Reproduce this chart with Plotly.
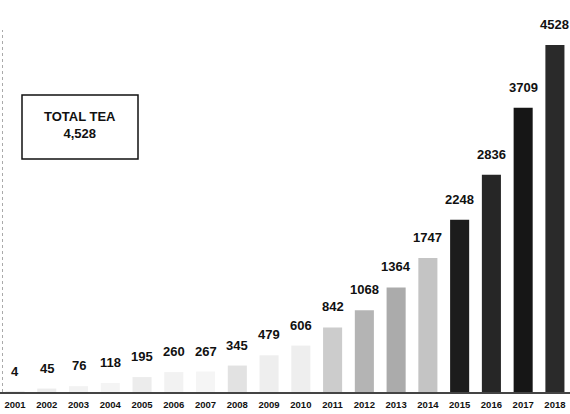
import plotly.graph_objects as go

years = [str(y) for y in range(2001, 2019)]
values = [4, 45, 76, 118, 195, 260, 267, 345, 479, 606, 842, 1068, 1364, 1747, 2248, 2836, 3709, 4528]
bar_colors = ["#f2f2f2", "#ececec", "#f2f2f2", "#f4f4f4", "#ececec", "#f2f2f2", "#f5f5f5", "#e2e2e2",
              "#eeeeee", "#eeeeee", "#cccccc", "#b4b4b4", "#ababab", "#c4c4c4", "#1c1c1c", "#262626",
              "#161616", "#2a2a2a"]
box_title = "TOTAL TEA"

FONT = "Liberation Sans Narrow, Arial Narrow, Liberation Sans, Arial, sans-serif"
idx = list(range(len(years)))

fig = go.Figure()
fig.add_trace(go.Bar(x=idx, y=values, marker=dict(color=bar_colors, line=dict(width=0)),
                     width=0.6, hoverinfo="x+y"))

for i, v in zip(idx, values):
    fig.add_annotation(x=i, y=v, text=f"<b>{v}</b>", showarrow=False, yanchor="bottom",
                       xanchor="center", yshift=11, font=dict(family=FONT, size=13, color="#111"))

W, H = 570, 414
plot_h = 392
def px(xp):
    return xp / W
def py(yp):
    return 1 - yp / plot_h

fig.add_shape(type="rect", xref="paper", yref="paper", x0=px(22), x1=px(138), y0=py(159), y1=py(95),
              line=dict(color="#111", width=1.5), fillcolor="white")
fig.add_annotation(xref="paper", yref="paper", x=px(80), y=py(125), showarrow=False,
                   xanchor="center", yanchor="middle",
                   text=f"<b>{box_title}<br>{values[-1]:,}</b>",
                   font=dict(family=FONT, size=13, color="#111"), align="center")
fig.add_shape(type="line", xref="paper", yref="paper", x0=px(2.5), x1=px(2.5), y0=0, y1=py(30),
              line=dict(color="#aaa", width=1, dash="dot"))

fig.update_layout(
    width=W, height=H, margin=dict(l=0, r=0, t=0, b=H - plot_h),
    paper_bgcolor="white", plot_bgcolor="white", showlegend=False, bargap=0.4,
    xaxis=dict(range=[-15 / 31.76, (570 - 15) / 31.76], tickmode="array", tickvals=idx,
               ticktext=[f"<b>{y}</b>" for y in years], showgrid=False, zeroline=False,
               showline=True, linecolor="#444", linewidth=1.5, ticks="outside", ticklen=3,
               tickcolor="white", tickfont=dict(family=FONT, size=9.5, color="#111")),
    yaxis=dict(range=[0, 4528 * plot_h / 347], visible=False, showgrid=False, zeroline=False),
)
fig.write_html("out.html", config={"displayModeBar": False},
               post_script="document.body.style.margin='0';")
